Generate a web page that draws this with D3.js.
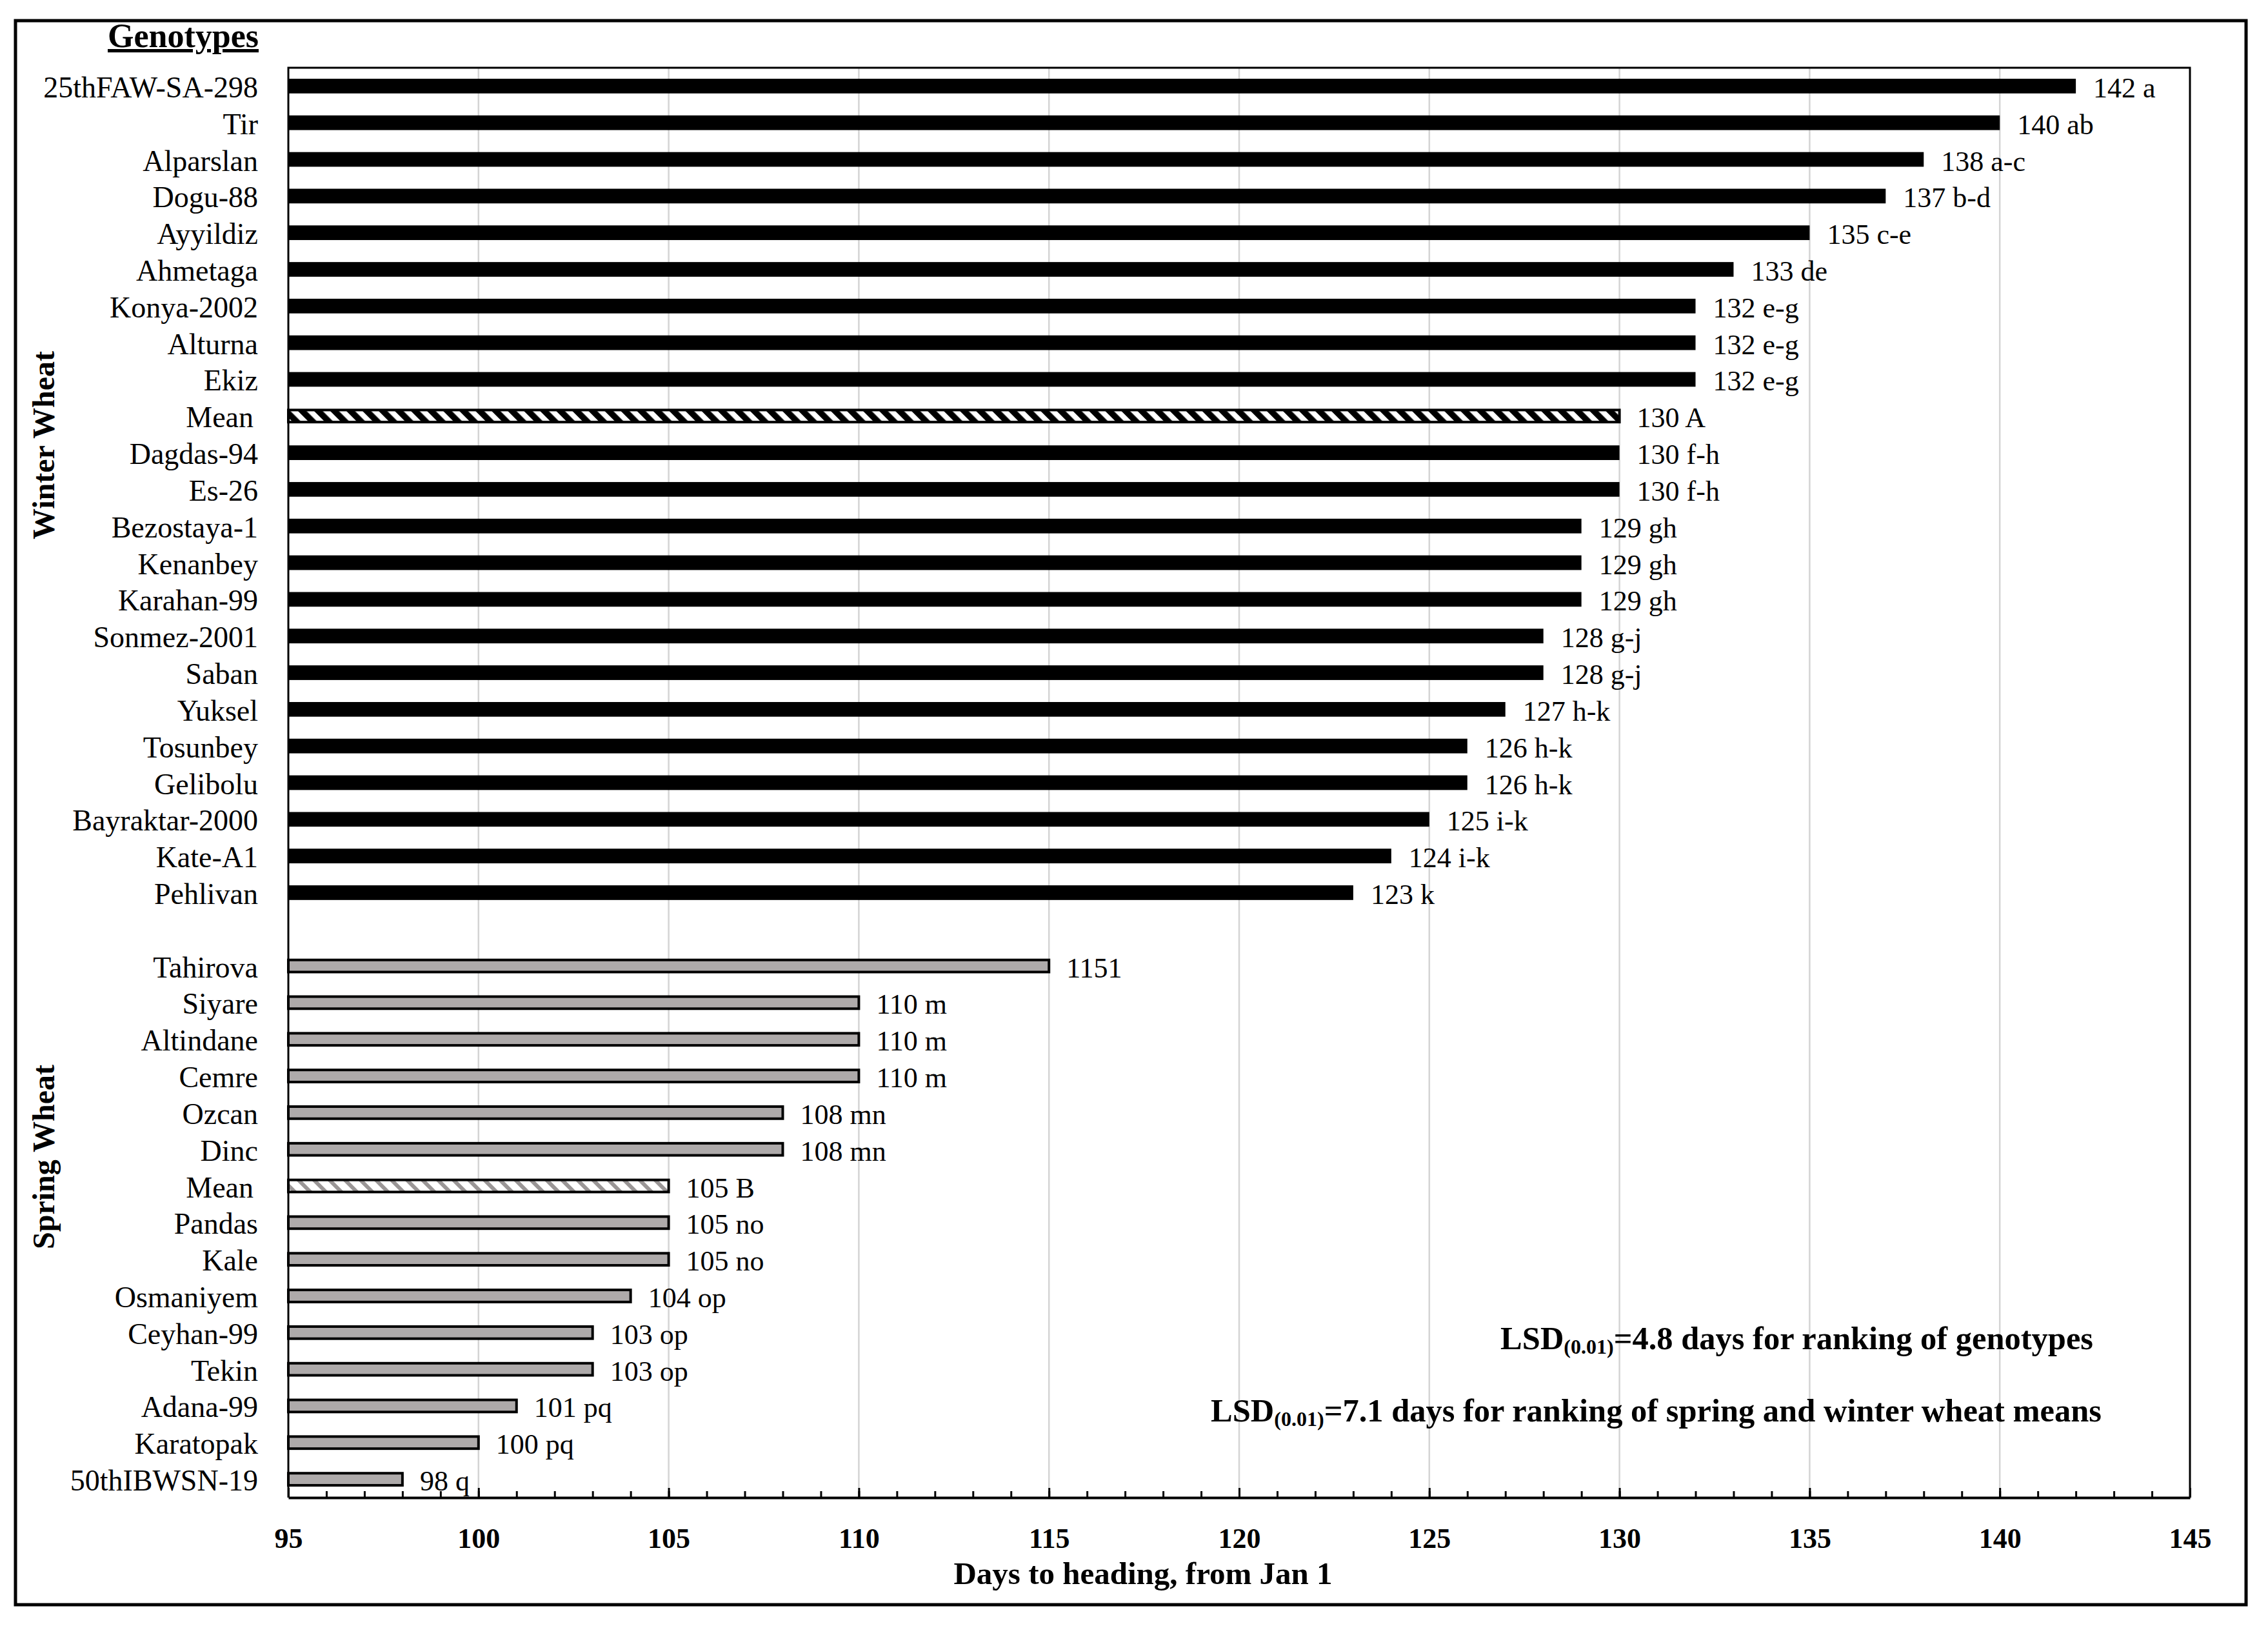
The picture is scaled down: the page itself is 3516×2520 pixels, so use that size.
<!DOCTYPE html>
<html><head><meta charset="utf-8">
<script src="https://cdn.jsdelivr.net/npm/d3@7"></script>
<style>body{margin:0;background:#fff}</style>
</head><body>
<script>
// ---------- data ----------
const winterNames = ["25thFAW-SA-298","Tir","Alparslan","Dogu-88","Ayyildiz","Ahmetaga","Konya-2002","Alturna","Ekiz","Mean","Dagdas-94","Es-26","Bezostaya-1","Kenanbey","Karahan-99","Sonmez-2001","Saban","Yuksel","Tosunbey","Gelibolu","Bayraktar-2000","Kate-A1","Pehlivan"];
const winterValues = [142,140,138,137,135,133,132,132,132,130,130,130,129,129,129,128,128,127,126,126,125,124,123];
const winterLetters = ["a","ab","a-c","b-d","c-e","de","e-g","e-g","e-g","A","f-h","f-h","gh","gh","gh","g-j","g-j","h-k","h-k","h-k","i-k","i-k","k"];
const springNames = ["Tahirova","Siyare","Altindane","Cemre","Ozcan","Dinc","Mean","Pandas","Kale","Osmaniyem","Ceyhan-99","Tekin","Adana-99","Karatopak","50thIBWSN-19"];
const springValues = [115,110,110,110,108,108,105,105,105,104,103,103,101,100,98];
const springLetters = ["1151","m","m","m","mn","mn","B","no","no","op","op","op","pq","pq","q"];
const xTicks = [95,100,105,110,115,120,125,130,135,140,145];
const xDomain = [95,145];
const xTitle = "Days to heading, from Jan 1";

// ---------- build rows ----------
const rows = [];
winterNames.forEach((n,i)=>rows.push({key:"w"+i,name:n,value:winterValues[i],letter:winterLetters[i],group:"winter",mean:n==="Mean"}));
rows.push({key:"gap",name:"",value:null,group:"gap"});
springNames.forEach((n,i)=>rows.push({key:"s"+i,name:n,value:springValues[i],letter:springLetters[i],group:"spring",mean:n==="Mean"}));

const W=3516,H=2520;
const L=447,R=3395,T=105,B=2321;
const FONT="'Liberation Serif','Times New Roman',serif";

const svg=d3.select("body").append("svg").attr("width",W).attr("height",H)
  .style("font-family",FONT);

const defs=svg.append("defs");
const p1=defs.append("pattern").attr("id","hatchW").attr("patternUnits","userSpaceOnUse")
  .attr("width",17.7).attr("height",17.7).attr("patternTransform","rotate(-45)");
p1.append("rect").attr("width",17.7).attr("height",17.7).attr("fill","#fff");
p1.append("rect").attr("width",9.5).attr("height",17.7).attr("fill","#000");
const p2=defs.append("pattern").attr("id","hatchS").attr("patternUnits","userSpaceOnUse")
  .attr("width",17).attr("height",17).attr("patternTransform","rotate(-45)");
p2.append("rect").attr("width",17).attr("height",17).attr("fill","#fff");
p2.append("rect").attr("width",6).attr("height",17).attr("fill","#9a9696");

// outer frame
svg.append("rect").attr("x",24).attr("y",32).attr("width",3458).attr("height",2455)
  .attr("fill","none").attr("stroke","#000").attr("stroke-width",5);

const x=d3.scaleLinear().domain(xDomain).range([L,R]);
const y=d3.scaleBand().domain(rows.map(d=>d.key)).range([T,B]).paddingInner(0.6).paddingOuter(0.3);
const bw=y.bandwidth();

// gridlines
svg.append("g").selectAll("line").data(xTicks.filter(v=>v>xDomain[0]&&v<xDomain[1])).join("line")
  .attr("x1",d=>x(d)).attr("x2",d=>x(d)).attr("y1",T).attr("y2",B)
  .attr("stroke","#d4d4d4").attr("stroke-width",2.5);

// plot frame (top, right, left)
svg.append("path").attr("d",`M${L},${B}V${T}H${R}V${B}`).attr("fill","none")
  .attr("stroke","#000").attr("stroke-width",3);

// bars
const bars=rows.filter(d=>d.value!==null);
svg.append("g").selectAll("rect").data(bars).join("rect")
  .attr("x",d=>x(xDomain[0]))
  .attr("y",d=>d.group==="winter"&&!d.mean? y(d.key) : y(d.key)+2)
  .attr("height",d=>d.group==="winter"&&!d.mean? bw : bw-4)
  .attr("width",d=>x(d.value)-x(xDomain[0]))
  .attr("fill",d=>d.group==="winter"?(d.mean?"url(#hatchW)":"#000"):(d.mean?"url(#hatchS)":"#aeaaaa"))
  .attr("stroke","#000")
  .attr("stroke-width",d=>d.group==="winter"&&!d.mean?0:4);

// value labels
svg.append("g").selectAll("text").data(bars).join("text")
  .attr("x",d=>x(d.value)+27).attr("y",d=>y(d.key)+bw/2+3)
  .attr("dominant-baseline","central")
  .attr("font-size",44).attr("fill","#000")
  .text(d=>d.letter==="1151"? d.letter : d.value+" "+d.letter);

// category labels
svg.append("g").selectAll("text").data(bars).join("text")
  .attr("x",d=>d.mean?393:400).attr("y",d=>y(d.key)+bw/2+2)
  .attr("text-anchor","end").attr("dominant-baseline","central")
  .attr("font-size",46).attr("fill","#000").text(d=>d.name);

// axes: minor and major ticks
svg.append("g").attr("transform",`translate(0,${B})`)
  .call(d3.axisBottom(x).tickValues(d3.range(95,146,1)).tickSize(-10).tickFormat(""))
  .call(g=>{g.select(".domain").remove();g.selectAll("line").attr("stroke","#000").attr("stroke-width",3);});
const ax=svg.append("g").attr("transform",`translate(0,${B})`)
  .call(d3.axisBottom(x).tickValues(xTicks).tickSize(-15).tickPadding(47).tickSizeOuter(0));
ax.select(".domain").attr("stroke","#000").attr("stroke-width",4);
ax.selectAll("line").attr("stroke","#000").attr("stroke-width",3);
ax.selectAll("text").attr("font-family",FONT).attr("font-size",44).attr("font-weight","bold").attr("fill","#000");

// axis title
svg.append("text").attr("x",1772).attr("y",2455).attr("text-anchor","middle")
  .attr("font-size",49).attr("font-weight","bold").text(xTitle);

// Genotypes header
svg.append("text").attr("x",401).attr("y",73).attr("text-anchor","end")
  .attr("font-size",52).attr("font-weight","bold").attr("text-decoration","underline").text("Genotypes");

// group labels
svg.append("text").attr("transform",`translate(67,690) rotate(-90)`).attr("text-anchor","middle")
  .attr("dominant-baseline","central").attr("font-size",48).attr("font-weight","bold").text("Winter Wheat");
svg.append("text").attr("transform",`translate(67,1793) rotate(-90)`).attr("text-anchor","middle")
  .attr("dominant-baseline","central").attr("font-size",48).attr("font-weight","bold").text("Spring Wheat");

// LSD notes
function lsd(xEnd,yMid,val,rest){
  const t=svg.append("text").attr("x",xEnd).attr("y",yMid).attr("text-anchor","end")
    .attr("dominant-baseline","central").attr("font-size",50.5).attr("font-weight","bold");
  t.append("tspan").text("LSD");
  t.append("tspan").attr("font-size",32).attr("dy",13).text("(0.01)");
  t.append("tspan").attr("dy",-13).text("="+val+" "+rest);
}
lsd(3245,2074,"4.8 days","for ranking of genotypes");
lsd(3258,2186,"7.1 days","for ranking of spring and winter wheat means");
</script>
</body></html>
